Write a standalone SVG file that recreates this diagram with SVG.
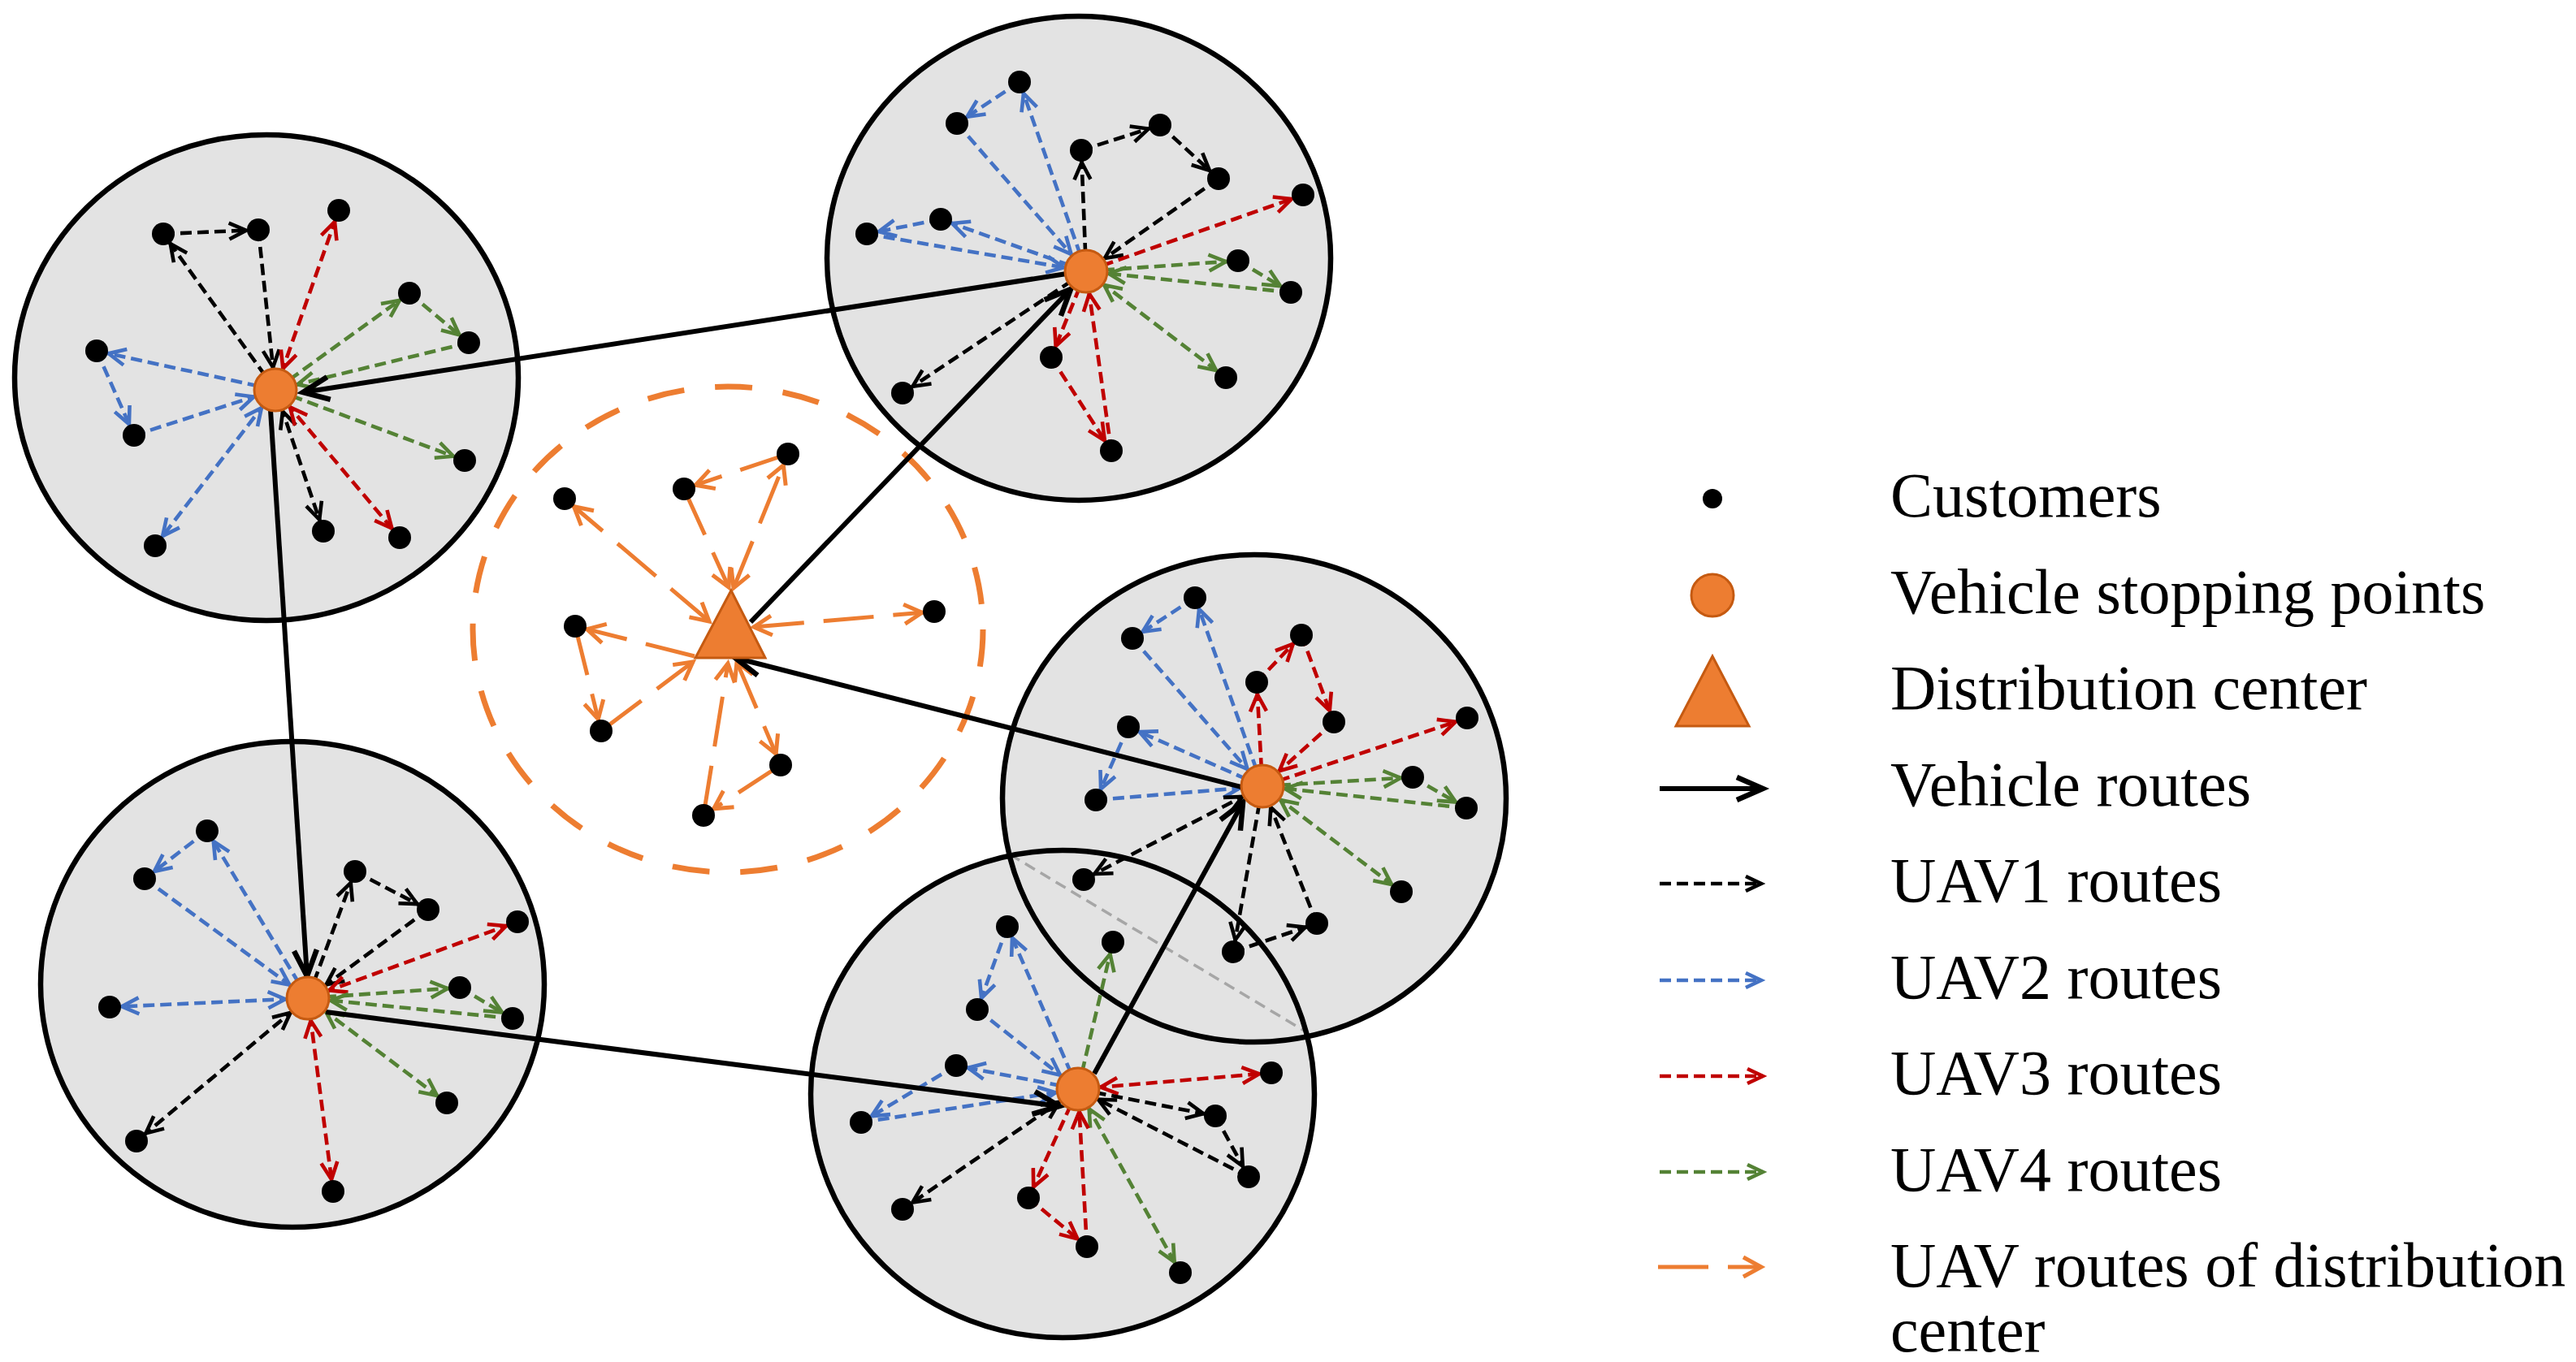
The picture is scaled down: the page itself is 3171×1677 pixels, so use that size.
<svg xmlns="http://www.w3.org/2000/svg" width="3171" height="1677" viewBox="0 0 3171 1677">
<style>
.zf{fill:#E3E3E3;stroke:none}
.zs{fill:none;stroke:#000;stroke-width:6.5}
.u{fill:none;stroke-width:4.6;stroke-dasharray:14 7}
.k{stroke:#000}.b{stroke:#4472C4}.r{stroke:#C00000}.g{stroke:#548235}
.o{fill:none;stroke:#ED7D31;stroke-width:5;stroke-dasharray:62 24}
.v{fill:none;stroke:#000;stroke-width:6}
.cu{fill:#000}
.sp{fill:#ED7D31;stroke:#C55A11;stroke-width:3}
.lt{font-family:"Liberation Serif","Times New Roman",serif;font-size:78px;fill:#000}
</style>
<defs>
<marker id="kc" markerUnits="userSpaceOnUse" orient="auto-start-reverse" refX="15" refY="0" markerWidth="1" markerHeight="1" overflow="visible"><path d="M-21,-10 L0,0 L-21,10" fill="none" stroke="#000" stroke-width="4.6"/></marker>
<marker id="kd" markerUnits="userSpaceOnUse" orient="auto-start-reverse" refX="28" refY="0" markerWidth="1" markerHeight="1" overflow="visible"><path d="M-21,-10 L0,0 L-21,10" fill="none" stroke="#000" stroke-width="4.6"/></marker>
<marker id="k0" markerUnits="userSpaceOnUse" orient="auto-start-reverse" refX="0" refY="0" markerWidth="1" markerHeight="1" overflow="visible"><path d="M-19,-9 L0,0 L-19,9" fill="none" stroke="#000" stroke-width="4.6"/></marker>
<marker id="bc" markerUnits="userSpaceOnUse" orient="auto-start-reverse" refX="15" refY="0" markerWidth="1" markerHeight="1" overflow="visible"><path d="M-21,-10 L0,0 L-21,10" fill="none" stroke="#4472C4" stroke-width="4.6"/></marker>
<marker id="bd" markerUnits="userSpaceOnUse" orient="auto-start-reverse" refX="28" refY="0" markerWidth="1" markerHeight="1" overflow="visible"><path d="M-21,-10 L0,0 L-21,10" fill="none" stroke="#4472C4" stroke-width="4.6"/></marker>
<marker id="b0" markerUnits="userSpaceOnUse" orient="auto-start-reverse" refX="0" refY="0" markerWidth="1" markerHeight="1" overflow="visible"><path d="M-19,-9 L0,0 L-19,9" fill="none" stroke="#4472C4" stroke-width="4.6"/></marker>
<marker id="rc" markerUnits="userSpaceOnUse" orient="auto-start-reverse" refX="15" refY="0" markerWidth="1" markerHeight="1" overflow="visible"><path d="M-21,-10 L0,0 L-21,10" fill="none" stroke="#C00000" stroke-width="4.6"/></marker>
<marker id="rd" markerUnits="userSpaceOnUse" orient="auto-start-reverse" refX="28" refY="0" markerWidth="1" markerHeight="1" overflow="visible"><path d="M-21,-10 L0,0 L-21,10" fill="none" stroke="#C00000" stroke-width="4.6"/></marker>
<marker id="r0" markerUnits="userSpaceOnUse" orient="auto-start-reverse" refX="0" refY="0" markerWidth="1" markerHeight="1" overflow="visible"><path d="M-19,-9 L0,0 L-19,9" fill="none" stroke="#C00000" stroke-width="4.6"/></marker>
<marker id="gc" markerUnits="userSpaceOnUse" orient="auto-start-reverse" refX="15" refY="0" markerWidth="1" markerHeight="1" overflow="visible"><path d="M-21,-10 L0,0 L-21,10" fill="none" stroke="#548235" stroke-width="4.6"/></marker>
<marker id="gd" markerUnits="userSpaceOnUse" orient="auto-start-reverse" refX="28" refY="0" markerWidth="1" markerHeight="1" overflow="visible"><path d="M-21,-10 L0,0 L-21,10" fill="none" stroke="#548235" stroke-width="4.6"/></marker>
<marker id="g0" markerUnits="userSpaceOnUse" orient="auto-start-reverse" refX="0" refY="0" markerWidth="1" markerHeight="1" overflow="visible"><path d="M-19,-9 L0,0 L-19,9" fill="none" stroke="#548235" stroke-width="4.6"/></marker>
<marker id="oc" markerUnits="userSpaceOnUse" orient="auto-start-reverse" refX="15" refY="0" markerWidth="1" markerHeight="1" overflow="visible"><path d="M-22,-12 L0,0 L-22,12" fill="none" stroke="#ED7D31" stroke-width="5"/></marker>
<marker id="o0" markerUnits="userSpaceOnUse" orient="auto-start-reverse" refX="0" refY="0" markerWidth="1" markerHeight="1" overflow="visible"><path d="M-22,-12 L0,0 L-22,12" fill="none" stroke="#ED7D31" stroke-width="5"/></marker>
<marker id="v0" markerUnits="userSpaceOnUse" orient="auto" refX="0" refY="0" markerWidth="1" markerHeight="1" overflow="visible"><path d="M-32,-14 L0,0 L-32,14" fill="none" stroke="#000" stroke-width="6.5"/></marker>
</defs>
<rect width="3171" height="1677" fill="#fff"/>

<g id="zones">
<ellipse class="zf" cx="328" cy="465" rx="310" ry="299"/>
<ellipse class="zf" cx="1328" cy="318" rx="310" ry="298"/>
<ellipse class="zf" cx="360" cy="1212" rx="310" ry="299"/>
<ellipse class="zf" cx="1308" cy="1347" rx="310" ry="300"/>
<ellipse class="zf" cx="1544" cy="983" rx="310" ry="300"/>
<line x1="1243" y1="1052" x2="1607" y2="1270" stroke="#A6A6A6" stroke-width="3.5" stroke-dasharray="14 8"/>
<ellipse id="zone1" class="zs" cx="328" cy="465" rx="310" ry="299"/>
<ellipse id="zone2" class="zs" cx="1328" cy="318" rx="310" ry="298"/>
<ellipse id="zone3" class="zs" cx="360" cy="1212" rx="310" ry="299"/>
<ellipse id="zone4" class="zs" cx="1308" cy="1347" rx="310" ry="300"/>
<ellipse id="zone5" class="zs" cx="1544" cy="983" rx="310" ry="300"/>
<ellipse id="zone-dc" cx="896" cy="775" rx="314" ry="299" fill="none" stroke="#ED7D31" stroke-width="7" stroke-dasharray="46 38"/>
</g>

<g id="connectors">
<!-- cluster 1 -->
<line class="u k" x1="339" y1="480" x2="201" y2="288" marker-end="url(#kc)"/>
<line class="u k" x1="201" y1="288" x2="318" y2="283" marker-end="url(#kc)"/>
<line class="u k" x1="318" y1="283" x2="339" y2="480" marker-end="url(#kd)"/>
<line class="u k" x1="339" y1="480" x2="398" y2="654" marker-start="url(#kd)" marker-end="url(#kc)"/>
<line class="u b" x1="339" y1="480" x2="119" y2="432" marker-end="url(#bc)"/>
<line class="u b" x1="119" y1="432" x2="165" y2="536" marker-end="url(#bc)"/>
<line class="u b" x1="165" y1="536" x2="339" y2="480" marker-end="url(#bd)"/>
<line class="u b" x1="339" y1="480" x2="191" y2="672" marker-start="url(#bd)" marker-end="url(#bc)"/>
<line class="u r" x1="339" y1="480" x2="417" y2="259" marker-start="url(#rd)" marker-end="url(#rc)"/>
<line class="u r" x1="339" y1="480" x2="492" y2="662" marker-start="url(#rd)" marker-end="url(#rc)"/>
<line class="u g" x1="339" y1="480" x2="504" y2="361" marker-end="url(#gc)"/>
<line class="u g" x1="504" y1="361" x2="577" y2="422" marker-end="url(#gc)"/>
<line class="u g" x1="577" y1="422" x2="339" y2="480" marker-end="url(#gd)"/>
<line class="u g" x1="339" y1="480" x2="572" y2="567" marker-end="url(#gc)"/>
<!-- cluster 2 -->
<line class="u b" x1="1337" y1="334" x2="1255" y2="101" marker-end="url(#bc)"/>
<line class="u b" x1="1255" y1="101" x2="1178" y2="152" marker-end="url(#bc)"/>
<line class="u b" x1="1178" y1="152" x2="1337" y2="334" marker-end="url(#bd)"/>
<line class="u b" x1="1337" y1="334" x2="1158" y2="270" marker-end="url(#bc)"/>
<line class="u b" x1="1158" y1="270" x2="1067" y2="288" marker-end="url(#bc)"/>
<line class="u b" x1="1067" y1="288" x2="1337" y2="334" marker-end="url(#bd)"/>
<line class="u k" x1="1337" y1="334" x2="1331" y2="185" marker-end="url(#kc)"/>
<line class="u k" x1="1331" y1="185" x2="1428" y2="154" marker-end="url(#kc)"/>
<line class="u k" x1="1428" y1="154" x2="1500" y2="220" marker-end="url(#kc)"/>
<line class="u k" x1="1500" y1="220" x2="1337" y2="334" marker-end="url(#kd)"/>
<line class="u k" x1="1337" y1="334" x2="1111" y2="484" marker-end="url(#kc)"/>
<line class="u r" x1="1337" y1="334" x2="1604" y2="240" marker-end="url(#rc)"/>
<line class="u r" x1="1337" y1="334" x2="1294" y2="440" marker-end="url(#rc)"/>
<line class="u r" x1="1294" y1="440" x2="1368" y2="555" marker-end="url(#rc)"/>
<line class="u r" x1="1368" y1="555" x2="1337" y2="334" marker-end="url(#rd)"/>
<line class="u g" x1="1337" y1="334" x2="1524" y2="321" marker-end="url(#gc)"/>
<line class="u g" x1="1524" y1="321" x2="1589" y2="360" marker-end="url(#gc)"/>
<line class="u g" x1="1589" y1="360" x2="1337" y2="334" marker-end="url(#gd)"/>
<line class="u g" x1="1337" y1="334" x2="1509" y2="465" marker-start="url(#gd)" marker-end="url(#gc)"/>
<!-- cluster 3 -->
<line class="u b" x1="379" y1="1229" x2="255" y2="1023" marker-end="url(#bc)"/>
<line class="u b" x1="255" y1="1023" x2="178" y2="1082" marker-end="url(#bc)"/>
<line class="u b" x1="178" y1="1082" x2="379" y2="1229" marker-end="url(#bd)"/>
<line class="u b" x1="379" y1="1229" x2="135" y2="1240" marker-start="url(#bd)" marker-end="url(#bc)"/>
<line class="u k" x1="379" y1="1229" x2="437" y2="1073" marker-end="url(#kc)"/>
<line class="u k" x1="437" y1="1073" x2="527" y2="1120" marker-end="url(#kc)"/>
<line class="u k" x1="527" y1="1120" x2="379" y2="1229" marker-end="url(#kd)"/>
<line class="u k" x1="379" y1="1229" x2="168" y2="1405" marker-start="url(#kd)" marker-end="url(#kc)"/>
<line class="u r" x1="379" y1="1229" x2="637" y2="1135" marker-start="url(#rd)" marker-end="url(#rc)"/>
<line class="u r" x1="379" y1="1229" x2="410" y2="1467" marker-start="url(#rd)" marker-end="url(#rc)"/>
<line class="u g" x1="379" y1="1229" x2="566" y2="1216" marker-end="url(#gc)"/>
<line class="u g" x1="566" y1="1216" x2="631" y2="1254" marker-end="url(#gc)"/>
<line class="u g" x1="631" y1="1254" x2="379" y2="1229" marker-end="url(#gd)"/>
<line class="u g" x1="379" y1="1229" x2="550" y2="1358" marker-start="url(#gd)" marker-end="url(#gc)"/>
<!-- cluster 4 -->
<line class="u b" x1="1327" y1="1341" x2="1240" y2="1141" marker-end="url(#bc)"/>
<line class="u b" x1="1240" y1="1141" x2="1203" y2="1243" marker-end="url(#bc)"/>
<line class="u b" x1="1203" y1="1243" x2="1327" y2="1341" marker-end="url(#bd)"/>
<line class="u b" x1="1327" y1="1341" x2="1177" y2="1312" marker-end="url(#bc)"/>
<line class="u b" x1="1177" y1="1312" x2="1060" y2="1382" marker-end="url(#bc)"/>
<line class="u b" x1="1060" y1="1382" x2="1327" y2="1341" marker-end="url(#bd)"/>
<line class="u g" x1="1327" y1="1341" x2="1370" y2="1160" marker-end="url(#gc)"/>
<line class="u g" x1="1327" y1="1341" x2="1453" y2="1567" marker-start="url(#gd)" marker-end="url(#gc)"/>
<line class="u r" x1="1327" y1="1341" x2="1565" y2="1321" marker-start="url(#rd)" marker-end="url(#rc)"/>
<line class="u r" x1="1327" y1="1341" x2="1266" y2="1475" marker-end="url(#rc)"/>
<line class="u r" x1="1266" y1="1475" x2="1338" y2="1535" marker-end="url(#rc)"/>
<line class="u r" x1="1338" y1="1535" x2="1327" y2="1341" marker-end="url(#rd)"/>
<line class="u k" x1="1327" y1="1341" x2="1496" y2="1374" marker-end="url(#kc)"/>
<line class="u k" x1="1496" y1="1374" x2="1537" y2="1449" marker-end="url(#kc)"/>
<line class="u k" x1="1537" y1="1449" x2="1327" y2="1341" marker-end="url(#kd)"/>
<line class="u k" x1="1327" y1="1341" x2="1111" y2="1489" marker-start="url(#kd)" marker-end="url(#kc)"/>
<!-- cluster 5 -->
<line class="u b" x1="1554" y1="968" x2="1471" y2="736" marker-end="url(#bc)"/>
<line class="u b" x1="1471" y1="736" x2="1394" y2="786" marker-end="url(#bc)"/>
<line class="u b" x1="1394" y1="786" x2="1554" y2="968" marker-end="url(#bd)"/>
<line class="u b" x1="1554" y1="968" x2="1389" y2="895" marker-end="url(#bc)"/>
<line class="u b" x1="1389" y1="895" x2="1349" y2="985" marker-end="url(#bc)"/>
<line class="u b" x1="1349" y1="985" x2="1554" y2="968" marker-end="url(#bd)"/>
<line class="u r" x1="1554" y1="968" x2="1547" y2="840" marker-end="url(#rc)"/>
<line class="u r" x1="1547" y1="840" x2="1602" y2="782" marker-end="url(#rc)"/>
<line class="u r" x1="1602" y1="782" x2="1642" y2="889" marker-end="url(#rc)"/>
<line class="u r" x1="1642" y1="889" x2="1554" y2="968" marker-end="url(#rd)"/>
<line class="u r" x1="1554" y1="968" x2="1806" y2="884" marker-end="url(#rc)"/>
<line class="u g" x1="1554" y1="968" x2="1739" y2="957" marker-end="url(#gc)"/>
<line class="u g" x1="1739" y1="957" x2="1805" y2="995" marker-end="url(#gc)"/>
<line class="u g" x1="1805" y1="995" x2="1554" y2="968" marker-end="url(#gd)"/>
<line class="u g" x1="1554" y1="968" x2="1725" y2="1098" marker-start="url(#gd)" marker-end="url(#gc)"/>
<line class="u k" x1="1554" y1="968" x2="1334" y2="1083" marker-start="url(#kd)" marker-end="url(#kc)"/>
<line class="u k" x1="1554" y1="968" x2="1518" y2="1172" marker-end="url(#kc)"/>
<line class="u k" x1="1518" y1="1172" x2="1621" y2="1137" marker-end="url(#kc)"/>
<line class="u k" x1="1621" y1="1137" x2="1554" y2="968" marker-end="url(#kd)"/>
<!-- distribution center UAV routes -->
<line class="o" x1="873" y1="765" x2="695" y2="614" marker-start="url(#o0)" marker-end="url(#oc)"/>
<line class="o" x1="903" y1="724" x2="970" y2="559" marker-start="url(#o0)" marker-end="url(#oc)"/>
<line class="o" x1="970" y1="559" x2="842" y2="602" marker-end="url(#oc)"/>
<line class="o" x1="842" y1="602" x2="897" y2="723" marker-end="url(#o0)"/>
<line class="o" x1="928" y1="772" x2="1150" y2="753" marker-start="url(#o0)" marker-end="url(#oc)"/>
<line class="o" x1="855" y1="808" x2="708" y2="771" marker-end="url(#oc)"/>
<line class="o" x1="708" y1="771" x2="740" y2="900" marker-end="url(#oc)"/>
<line class="o" x1="740" y1="900" x2="853" y2="815" marker-end="url(#o0)"/>
<line class="o" x1="907" y1="815" x2="961" y2="942" marker-start="url(#o0)" marker-end="url(#oc)"/>
<line class="o" x1="961" y1="942" x2="866" y2="1004" marker-end="url(#oc)"/>
<line class="o" x1="866" y1="1004" x2="896" y2="817" marker-end="url(#o0)"/>
<!-- vehicle routes -->
<line class="v" x1="1313" y1="337" x2="373" y2="483" marker-end="url(#v0)"/>
<line class="v" x1="333" y1="505" x2="378" y2="1202" marker-end="url(#v0)"/>
<line class="v" x1="401" y1="1246" x2="1304" y2="1362" marker-end="url(#v0)"/>
<line class="v" x1="1347" y1="1322" x2="1530" y2="988" marker-end="url(#v0)"/>
<line class="v" x1="1528" y1="969" x2="905" y2="810" marker-end="url(#v0)"/>
<line class="v" x1="924" y1="766" x2="1318" y2="356" marker-end="url(#v0)"/>
</g>

<g id="nodes">
<g id="dc"><polygon class="sp" points="900,727 856,810 942,810"/></g>
<g id="stop1"><circle class="sp" cx="339" cy="480" r="26"/></g>
<g id="stop2"><circle class="sp" cx="1337" cy="334" r="26"/></g>
<g id="stop3"><circle class="sp" cx="379" cy="1229" r="26"/></g>
<g id="stop4"><circle class="sp" cx="1327" cy="1341" r="26"/></g>
<g id="stop5"><circle class="sp" cx="1554" cy="968" r="26"/></g>
<g id="c1a"><circle class="cu" cx="201" cy="288" r="14"/></g>
<g id="c1b"><circle class="cu" cx="318" cy="283" r="14"/></g>
<g id="c1c"><circle class="cu" cx="417" cy="259" r="14"/></g>
<g id="c1d"><circle class="cu" cx="504" cy="361" r="14"/></g>
<g id="c1e"><circle class="cu" cx="577" cy="422" r="14"/></g>
<g id="c1f"><circle class="cu" cx="119" cy="432" r="14"/></g>
<g id="c1g"><circle class="cu" cx="165" cy="536" r="14"/></g>
<g id="c1h"><circle class="cu" cx="572" cy="567" r="14"/></g>
<g id="c1i"><circle class="cu" cx="398" cy="654" r="14"/></g>
<g id="c1j"><circle class="cu" cx="492" cy="662" r="14"/></g>
<g id="c1k"><circle class="cu" cx="191" cy="672" r="14"/></g>
<g id="c2a"><circle class="cu" cx="1255" cy="101" r="14"/></g>
<g id="c2b"><circle class="cu" cx="1178" cy="152" r="14"/></g>
<g id="c2c"><circle class="cu" cx="1331" cy="185" r="14"/></g>
<g id="c2d"><circle class="cu" cx="1428" cy="154" r="14"/></g>
<g id="c2e"><circle class="cu" cx="1500" cy="220" r="14"/></g>
<g id="c2f"><circle class="cu" cx="1604" cy="240" r="14"/></g>
<g id="c2g"><circle class="cu" cx="1158" cy="270" r="14"/></g>
<g id="c2h"><circle class="cu" cx="1067" cy="288" r="14"/></g>
<g id="c2i"><circle class="cu" cx="1524" cy="321" r="14"/></g>
<g id="c2j"><circle class="cu" cx="1589" cy="360" r="14"/></g>
<g id="c2k"><circle class="cu" cx="1294" cy="440" r="14"/></g>
<g id="c2l"><circle class="cu" cx="1509" cy="465" r="14"/></g>
<g id="c2m"><circle class="cu" cx="1111" cy="484" r="14"/></g>
<g id="c2n"><circle class="cu" cx="1368" cy="555" r="14"/></g>
<g id="c3a"><circle class="cu" cx="255" cy="1023" r="14"/></g>
<g id="c3b"><circle class="cu" cx="178" cy="1082" r="14"/></g>
<g id="c3c"><circle class="cu" cx="437" cy="1073" r="14"/></g>
<g id="c3d"><circle class="cu" cx="527" cy="1120" r="14"/></g>
<g id="c3e"><circle class="cu" cx="637" cy="1135" r="14"/></g>
<g id="c3f"><circle class="cu" cx="135" cy="1240" r="14"/></g>
<g id="c3g"><circle class="cu" cx="566" cy="1216" r="14"/></g>
<g id="c3h"><circle class="cu" cx="631" cy="1254" r="14"/></g>
<g id="c3i"><circle class="cu" cx="550" cy="1358" r="14"/></g>
<g id="c3j"><circle class="cu" cx="168" cy="1405" r="14"/></g>
<g id="c3k"><circle class="cu" cx="410" cy="1467" r="14"/></g>
<g id="c4a"><circle class="cu" cx="1240" cy="1141" r="14"/></g>
<g id="c4b"><circle class="cu" cx="1370" cy="1160" r="14"/></g>
<g id="c4c"><circle class="cu" cx="1203" cy="1243" r="14"/></g>
<g id="c4d"><circle class="cu" cx="1177" cy="1312" r="14"/></g>
<g id="c4e"><circle class="cu" cx="1060" cy="1382" r="14"/></g>
<g id="c4f"><circle class="cu" cx="1565" cy="1321" r="14"/></g>
<g id="c4g"><circle class="cu" cx="1496" cy="1374" r="14"/></g>
<g id="c4h"><circle class="cu" cx="1537" cy="1449" r="14"/></g>
<g id="c4i"><circle class="cu" cx="1111" cy="1489" r="14"/></g>
<g id="c4j"><circle class="cu" cx="1266" cy="1475" r="14"/></g>
<g id="c4k"><circle class="cu" cx="1338" cy="1535" r="14"/></g>
<g id="c4l"><circle class="cu" cx="1453" cy="1567" r="14"/></g>
<g id="c5a"><circle class="cu" cx="1471" cy="736" r="14"/></g>
<g id="c5b"><circle class="cu" cx="1394" cy="786" r="14"/></g>
<g id="c5c"><circle class="cu" cx="1602" cy="782" r="14"/></g>
<g id="c5d"><circle class="cu" cx="1547" cy="840" r="14"/></g>
<g id="c5e"><circle class="cu" cx="1642" cy="889" r="14"/></g>
<g id="c5f"><circle class="cu" cx="1806" cy="884" r="14"/></g>
<g id="c5g"><circle class="cu" cx="1389" cy="895" r="14"/></g>
<g id="c5h"><circle class="cu" cx="1349" cy="985" r="14"/></g>
<g id="c5i"><circle class="cu" cx="1739" cy="957" r="14"/></g>
<g id="c5j"><circle class="cu" cx="1805" cy="995" r="14"/></g>
<g id="c5k"><circle class="cu" cx="1334" cy="1083" r="14"/></g>
<g id="c5l"><circle class="cu" cx="1725" cy="1098" r="14"/></g>
<g id="c5m"><circle class="cu" cx="1621" cy="1137" r="14"/></g>
<g id="c5n"><circle class="cu" cx="1518" cy="1172" r="14"/></g>
<g id="p1"><circle class="cu" cx="695" cy="614" r="14"/></g>
<g id="p2"><circle class="cu" cx="842" cy="602" r="14"/></g>
<g id="p3"><circle class="cu" cx="970" cy="559" r="14"/></g>
<g id="p4"><circle class="cu" cx="1150" cy="753" r="14"/></g>
<g id="p5"><circle class="cu" cx="708" cy="771" r="14"/></g>
<g id="p6"><circle class="cu" cx="740" cy="900" r="14"/></g>
<g id="p7"><circle class="cu" cx="961" cy="942" r="14"/></g>
<g id="p8"><circle class="cu" cx="866" cy="1004" r="14"/></g>
</g>

<g id="legend">
<circle class="cu" cx="2108" cy="614" r="12"/>
<text class="lt" x="2327" y="636">Customers</text>
<circle class="sp" cx="2108" cy="733" r="26"/>
<text class="lt" x="2327" y="755">Vehicle stopping points</text>
<polygon class="sp" points="2108,808 2063,894 2153,894"/>
<text class="lt" x="2327" y="873">Distribution center</text>
<line class="v" x1="2043" y1="971" x2="2170" y2="971" marker-end="url(#v0)"/>
<text class="lt" x="2327" y="992">Vehicle routes</text>
<line class="u k" x1="2043" y1="1088" x2="2168" y2="1088" marker-end="url(#k0)"/>
<text class="lt" x="2327" y="1110">UAV1 routes</text>
<line class="u b" x1="2043" y1="1207" x2="2168" y2="1207" marker-end="url(#b0)"/>
<text class="lt" x="2327" y="1229">UAV2 routes</text>
<line class="u r" x1="2043" y1="1325" x2="2170" y2="1325" marker-end="url(#r0)"/>
<text class="lt" x="2327" y="1347">UAV3 routes</text>
<line class="u g" x1="2043" y1="1443" x2="2170" y2="1443" marker-end="url(#g0)"/>
<text class="lt" x="2327" y="1466">UAV4 routes</text>
<line class="o" x1="2041" y1="1560" x2="2168" y2="1560" marker-end="url(#o0)"/>
<text class="lt" x="2327" y="1584">UAV routes of distribution</text>
<text class="lt" x="2327" y="1664">center</text>
</g>
</svg>
